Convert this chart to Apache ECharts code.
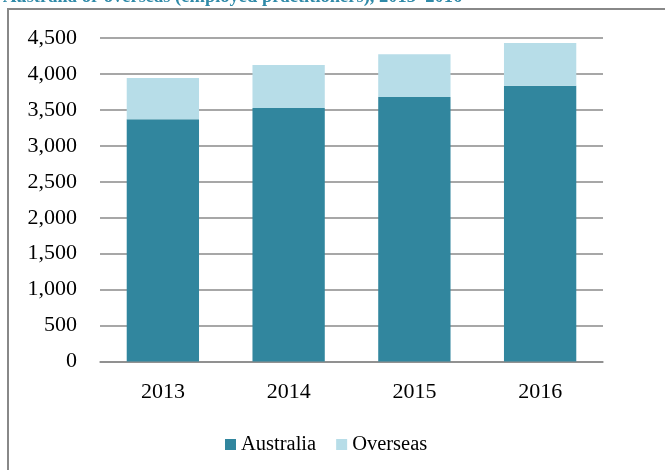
<!DOCTYPE html>
<html><head><meta charset="utf-8">
<script src="https://cdn.jsdelivr.net/npm/echarts@6/dist/echarts.min.js"></script>
<style>html,body{margin:0;padding:0;background:#fff}#c{width:665px;height:470px}</style>
</head><body><div id="c"></div>
<script>
var categories = ['2013', '2014', '2015', '2016'];
var australia = [3370, 3525, 3680, 3835];
var overseas = [575, 600, 595, 595];
var yTicks = {min: 0, max: 4500, interval: 500};
var titleText = 'Australia or overseas (employed practitioners), 2013\u20132016';

var chart = echarts.init(document.getElementById('c'), null, {renderer: 'canvas'});
var serif = '"Liberation Serif", "Times New Roman", serif';
chart.setOption({
  animation: false,
  backgroundColor: '#fff',
  graphic: [
    {type: 'rect', shape: {x: 8, y: 9, width: 720, height: 520}, style: {fill: 'none', stroke: '#888', lineWidth: 2}, z: 1},
    {type: 'text', left: 3, top: -12, style: {text: titleText, font: 'bold 18.5px ' + serif, fill: '#2f8aa8'}, z: 2}
  ],
  grid: {left: 100, right: 62, top: 38, height: 323.5, containLabel: false},
  xAxis: {
    type: 'category', data: categories,
    axisLine: {show: true, lineStyle: {color: '#8a8a8a', width: 1.5}},
    axisTick: {show: false},
    axisLabel: {color: '#000', fontFamily: serif, fontSize: 22, margin: 20}
  },
  yAxis: {
    type: 'value', min: yTicks.min, max: yTicks.max, interval: yTicks.interval,
    axisLine: {show: false}, axisTick: {show: false},
    splitLine: {lineStyle: {color: '#8a8a8a', width: 1.5}},
    axisLabel: {color: '#000', fontFamily: serif, fontSize: 22, margin: 23,
      formatter: function (v) { return v.toLocaleString('en-US'); }}
  },
  legend: {
    bottom: 10, left: 220, itemWidth: 11, itemHeight: 11, itemGap: 20,
    icon: 'rect',
    textStyle: {color: '#000', fontFamily: serif, fontSize: 20.5, padding: [0, 0, 0, 0]},
    data: ['Australia', 'Overseas']
  },
  series: [
    {name: 'Australia', type: 'bar', stack: 's', data: australia, barWidth: '57.5%',
      itemStyle: {color: '#31869e'}},
    {name: 'Overseas', type: 'bar', stack: 's', data: overseas, barWidth: '57.5%',
      itemStyle: {color: '#b7dde8'}}
  ]
});
</script></body></html>
